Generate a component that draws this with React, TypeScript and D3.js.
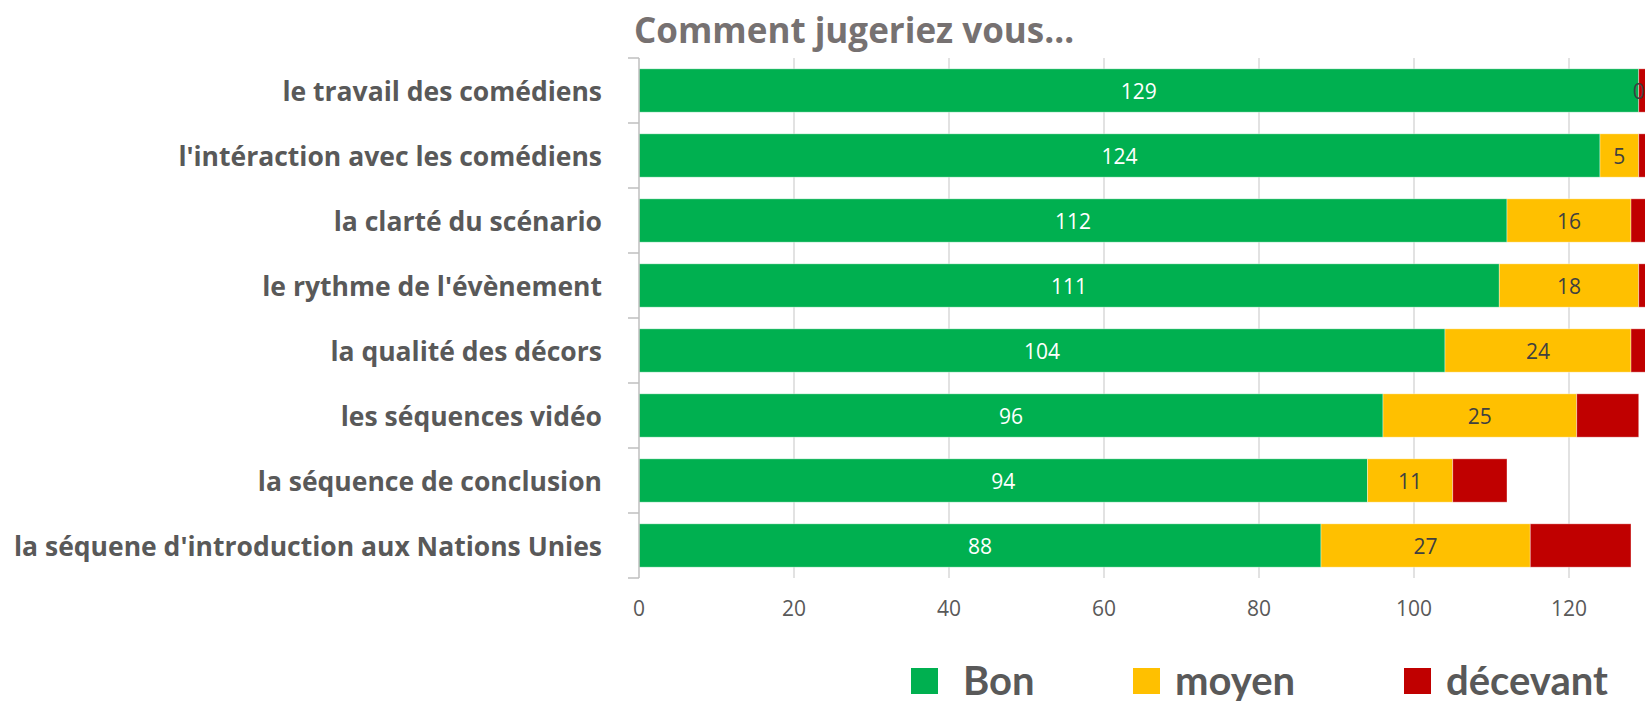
import React from 'react';
import { scaleBand, scaleLinear } from 'd3';

const categories = [
  'le travail des comédiens',
  "l'intéraction avec les comédiens",
  'la clarté du scénario',
  "le rythme de l'évènement",
  'la qualité des décors',
  'les séquences vidéo',
  'la séquence de conclusion',
  "la séquene d'introduction aux Nations Unies",
];
const bon = [129, 124, 112, 111, 104, 96, 94, 88];
const moyen = [0, 5, 16, 18, 24, 25, 11, 27];
const decevant = [2, 2, 3, 2, 3, 8, 7, 13];
const xTicks = [0, 20, 40, 60, 80, 100, 120, 140];
const seriesNames = ['Bon', 'moyen', 'décevant'];
const colors = ['#00B050', '#FFC000', '#C00000'];
const title = 'Comment jugeriez vous…';

const W = 1645;
const H = 701;
const FONT = '"Open Sans", Lato, sans-serif';
const LEGEND_FONT = 'Lato, "Open Sans", sans-serif';

const App = () => {
  const x = scaleLinear().domain([0, 140]).range([639, 1724]);
  const y = scaleBand<string>()
    .domain(categories)
    .range([58, 578])
    .paddingInner(1 / 3)
    .paddingOuter(1 / 6);

  const series = [bon, moyen, decevant];
  const step = y.step();
  const boundaries = categories.map((_, i) => 58 + i * step).concat([578]);

  // legend positions
  const legendX = [911, 1133, 1404];

  return (
    <svg
      width={W}
      height={H}
      style={{ position: 'absolute', left: 0, top: 0, background: '#fff' }}
    >
      {/* title */}
      <text x={634} y={43} fontFamily={FONT} fontWeight={700} fontSize={35} fill="#767171">
        {title}
      </text>

      {/* gridlines */}
      {xTicks.filter(t => t > 0).map(t => (
        <line key={t} x1={x(t)} x2={x(t)} y1={58} y2={578} stroke="#d9d9d9" strokeWidth={1.5} />
      ))}

      {/* bars */}
      {categories.map((c, i) => {
        let acc = 0;
        return (
          <g key={c}>
            {series.map((s, k) => {
              const x0 = x(acc);
              acc += s[i];
              const x1 = x(acc);
              return (
                <rect
                  key={k}
                  x={x0}
                  y={y(c)}
                  width={Math.max(0, x1 - x0)}
                  height={y.bandwidth()}
                  fill={colors[k]}
                  stroke="#ffffff"
                  strokeOpacity={0.5}
                  strokeWidth={0.75}
                />
              );
            })}
          </g>
        );
      })}

      {/* value labels */}
      {categories.map((c, i) => {
        const cy = (y(c) ?? 0) + y.bandwidth() / 2;
        return (
          <g key={c} fontFamily={FONT} fontSize={21} textAnchor="middle" dominantBaseline="central">
            <text x={x(bon[i] / 2)} y={cy} fill="#ffffff">{bon[i]}</text>
            <text x={x(bon[i] + moyen[i] / 2)} y={cy} fill="#404040">{moyen[i]}</text>
          </g>
        );
      })}

      {/* left axis */}
      <line x1={639} x2={639} y1={58} y2={578} stroke="#bfbfbf" strokeWidth={1.5} />
      {boundaries.map((b, i) => (
        <line key={i} x1={628} x2={639} y1={b} y2={b} stroke="#bfbfbf" strokeWidth={1.5} />
      ))}

      {/* category labels */}
      {categories.map(c => (
        <text
          key={c}
          x={602}
          y={(y(c) ?? 0) + y.bandwidth() / 2}
          textAnchor="end"
          dominantBaseline="central"
          fontFamily={FONT}
          fontWeight={700}
          fontSize={26.5}
          fill="#595959"
        >
          {c}
        </text>
      ))}

      {/* x tick labels */}
      {xTicks.map(t => (
        <text
          key={t}
          x={x(t)}
          y={608}
          textAnchor="middle"
          dominantBaseline="central"
          fontFamily={FONT}
          fontSize={21}
          fill="#595959"
        >
          {t}
        </text>
      ))}

      {/* legend */}
      {seriesNames.map((n, k) => (
        <g key={n}>
          <rect x={legendX[k]} y={668} width={27} height={26} fill={colors[k]} />
          <text
            x={legendX[k] + (k === 0 ? 52 : 42)}
            y={695}
            fontFamily={LEGEND_FONT}
            fontWeight={700}
            fontSize={40}
            fill="#595959"
          >
            {n}
          </text>
        </g>
      ))}
    </svg>
  );
};

export default App;
